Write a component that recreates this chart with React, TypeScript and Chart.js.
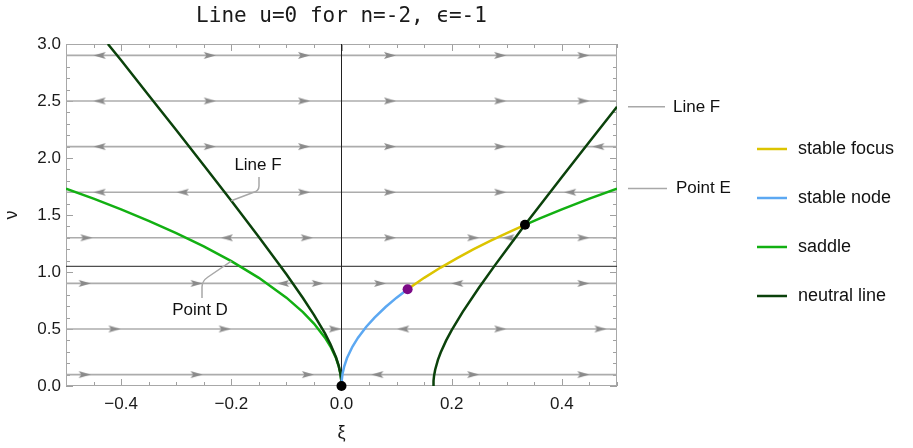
import React, { useEffect, useRef } from 'react';
import { Chart, registerables } from 'chart.js';

Chart.register(...registerables);

// ---------- data ----------
const xTicks = [-0.4, -0.2, 0, 0.2, 0.4];
const yTicks = [0, 0.5, 1, 1.5, 2, 2.5, 3];
const streamRows = [0.1, 0.5, 0.9, 1.3, 1.7, 2.1, 2.5, 2.9];

const arrowsRight: number[][] = [
  [-0.239, 2.9], [-0.068, 2.9], [0.088, 2.9], [0.288, 2.9], [0.439, 2.9],
  [-0.239, 2.5], [-0.068, 2.5], [0.088, 2.5], [0.288, 2.5], [0.439, 2.5],
  [-0.239, 2.1], [-0.068, 2.1], [0.088, 2.1], [0.288, 2.1],
  [-0.068, 1.7], [0.088, 1.7], [0.288, 1.7],
  [-0.463, 1.3], [-0.063, 1.3], [0.088, 1.3], [0.239, 1.3], [0.439, 1.3],
  [-0.466, 0.9], [-0.263, 0.9], [-0.043, 0.9], [0.07, 0.9], [0.439, 0.9],
  [-0.412, 0.5], [-0.212, 0.5], [-0.012, 0.5], [0.288, 0.5], [0.47, 0.5],
  [-0.466, 0.1], [-0.263, 0.1], [-0.061, 0.1], [0.239, 0.1], [0.439, 0.1],
];
const arrowsLeft: number[][] = [
  [-0.439, 2.9],
  [-0.439, 2.5],
  [-0.439, 2.1], [0.466, 2.1],
  [-0.439, 1.7], [-0.288, 1.7], [0.415, 1.7],
  [-0.208, 1.3], [0.303, 1.3],
  [-0.106, 0.9], [0.21, 0.9],
  [0.112, 0.5],
  [0.065, 0.1],
];

const axisH = [[-0.5, 1.05], [0.5, 1.05]];
const axisV = [[0, 0], [0, 3]];

const saddleLeft = [
  [-0.5, 1.732], [-0.45, 1.643], [-0.4, 1.549], [-0.35, 1.449], [-0.3, 1.342],
  [-0.25, 1.225], [-0.2, 1.095], [-0.15, 0.949], [-0.1, 0.775], [-0.07, 0.648],
  [-0.05, 0.548], [-0.03, 0.424], [-0.02, 0.346], [-0.01, 0.245], [-0.005, 0.173],
  [-0.002, 0.11], [-0.0005, 0.055], [0, 0],
];
const stableNode = [
  [0, 0], [0.0005, 0.055], [0.002, 0.11], [0.005, 0.173], [0.01, 0.245],
  [0.02, 0.346], [0.03, 0.424], [0.045, 0.52], [0.06, 0.6], [0.08, 0.693],
  [0.1, 0.775], [0.12, 0.849],
];
const stableFocus = [
  [0.12, 0.849], [0.15, 0.949], [0.18, 1.039], [0.21, 1.122], [0.24, 1.2],
  [0.27, 1.273], [0.3, 1.342], [0.333, 1.414],
];
const saddleRight = [
  [0.333, 1.414], [0.36, 1.47], [0.4, 1.549], [0.45, 1.643], [0.5, 1.732],
];
const neutralLeft = [
  [-0.424, 3], [-0.4, 2.857], [-0.35, 2.551], [-0.3, 2.245], [-0.25, 1.936],
  [-0.2, 1.625], [-0.15, 1.308], [-0.1, 0.98], [-0.07, 0.772], [-0.05, 0.624],
  [-0.03, 0.461], [-0.02, 0.367], [-0.01, 0.252], [-0.005, 0.176], [-0.002, 0.11],
  [-0.0005, 0.055], [0, 0],
];
const neutralRight = [
  [0.1667, 0], [0.167, 0.045], [0.168, 0.09], [0.17, 0.143], [0.175, 0.229],
  [0.18, 0.294], [0.19, 0.4], [0.2, 0.49], [0.22, 0.65], [0.25, 0.866],
  [0.28, 1.069], [0.3, 1.2], [0.333, 1.414], [0.36, 1.583], [0.4, 1.833],
  [0.45, 2.142], [0.5, 2.449],
];
const fixedPoints = [[0, 0], [0.333, 1.414]];
const transitionPoint = [[0.12, 0.849]];

const calloutLineF = [-0.2, 1.625];
const calloutPointD = [-0.2, 1.095];
const edgeLineF = [0.5, 2.449];
const edgePointE = [0.5, 1.732];

const legendLabels = ['stable focus', 'stable node', 'saddle', 'neutral line'];

const TITLE = 'Line u=0 for n=-2, \u03F5=-1';

// ---------- styles ----------
const C_FOCUS = '#dcc400';
const C_NODE = '#5ca8f2';
const C_SADDLE = '#12b012';
const C_NEUTRAL = '#0b420b';
const legendColors = [C_FOCUS, C_NODE, C_SADDLE, C_NEUTRAL];
const FONT = '"Liberation Sans", Arial, sans-serif';

function makeArrow(dir: number) {
  const c = document.createElement('canvas');
  c.width = 14;
  c.height = 9;
  const g = c.getContext('2d')!;
  g.fillStyle = '#8a8a8a';
  g.beginPath();
  if (dir > 0) {
    g.moveTo(1, 1); g.lineTo(13, 4.5); g.lineTo(1, 8); g.lineTo(3.5, 4.5);
  } else {
    g.moveTo(13, 1); g.lineTo(1, 4.5); g.lineTo(13, 8); g.lineTo(10.5, 4.5);
  }
  g.closePath();
  g.fill();
  return c;
}

const fmt = (v: number) => {
  if (Math.abs(v) < 1e-9) return '0.0';
  return (v < 0 ? '\u2212' : '') + Math.abs(v).toFixed(1);
};

const decor = {
  id: 'decor',
  beforeDatasetsDraw(chart: any) {
    const { ctx, chartArea: a, scales } = chart;
    const x = scales.x, y = scales.y;
    ctx.save();
    ctx.strokeStyle = '#a0a0a0';
    ctx.lineWidth = 1;
    for (let i = -10; i <= 10; i++) {
      const v = i * 0.05;
      const px = Math.round(x.getPixelForValue(v)) + 0.5;
      const len = i % 4 === 0 ? 7 : 4;
      ctx.beginPath();
      ctx.moveTo(px, a.bottom); ctx.lineTo(px, a.bottom - len);
      ctx.moveTo(px, a.top); ctx.lineTo(px, a.top + len);
      ctx.stroke();
    }
    for (let i = 0; i <= 30; i++) {
      const v = i * 0.1;
      const py = Math.round(y.getPixelForValue(v)) + 0.5;
      const len = i % 5 === 0 ? 7 : 4;
      ctx.beginPath();
      ctx.moveTo(a.left, py); ctx.lineTo(a.left + len, py);
      ctx.moveTo(a.right, py); ctx.lineTo(a.right - len, py);
      ctx.stroke();
    }
    ctx.strokeStyle = '#a8a8a8';
    ctx.strokeRect(a.left + 0.5, a.top + 0.5, a.right - a.left - 1, a.bottom - a.top - 1);
    ctx.restore();
  },
  afterDraw(chart: any) {
    const { ctx, chartArea: a, scales } = chart;
    const x = scales.x, y = scales.y;
    ctx.save();
    // title
    ctx.fillStyle = '#1a1a1a';
    ctx.font = '21px "DejaVu Sans Mono", monospace';
    ctx.textAlign = 'center';
    ctx.textBaseline = 'middle';
    ctx.fillText(TITLE, (a.left + a.right) / 2, 17);

    // axis titles
    ctx.font = `18px ${FONT}`;
    ctx.fillText('\u03BE', (a.left + a.right) / 2, 433);
    ctx.save();
    ctx.translate(12, (a.top + a.bottom) / 2);
    ctx.rotate(-Math.PI / 2);
    ctx.fillText('\u03BD', 0, 0);
    ctx.restore();

    // callouts
    ctx.strokeStyle = '#a8a8a8';
    ctx.lineWidth = 1.5;
    const fx = x.getPixelForValue(calloutLineF[0]);
    const fy = y.getPixelForValue(calloutLineF[1]);
    ctx.beginPath();
    ctx.moveTo(259, 177); ctx.lineTo(259, 186);
    ctx.quadraticCurveTo(259, 191, 253, 192.5);
    ctx.lineTo(fx, fy);
    ctx.stroke();
    const dx = x.getPixelForValue(calloutPointD[0]);
    const dy = y.getPixelForValue(calloutPointD[1]);
    ctx.beginPath();
    ctx.moveTo(202, 298); ctx.lineTo(202, 287);
    ctx.quadraticCurveTo(202, 281, 208, 277);
    ctx.lineTo(dx, dy);
    ctx.stroke();
    const ex = x.getPixelForValue(edgeLineF[0]);
    const ey1 = y.getPixelForValue(edgeLineF[1]);
    const ey2 = y.getPixelForValue(edgePointE[1]);
    ctx.beginPath();
    ctx.moveTo(ex + 11, ey1); ctx.lineTo(ex + 48, ey1);
    ctx.moveTo(ex + 11, ey2); ctx.lineTo(ex + 50, ey2);
    ctx.stroke();

    ctx.fillStyle = '#111';
    ctx.font = `17px ${FONT}`;
    ctx.textAlign = 'center';
    ctx.fillText('Line F', 258, 165);
    ctx.fillText('Point D', 200, 310);
    ctx.textAlign = 'left';
    ctx.fillText('Line F', ex + 56, ey1);
    ctx.fillText('Point E', ex + 59, ey2);

    // legend
    ctx.font = `18px ${FONT}`;
    const rows = [149, 198, 247, 296];
    legendLabels.forEach((lab, i) => {
      ctx.strokeStyle = legendColors[i];
      ctx.lineWidth = 2.5;
      ctx.beginPath();
      ctx.moveTo(757, rows[i]); ctx.lineTo(787, rows[i]);
      ctx.stroke();
      ctx.fillStyle = '#111';
      ctx.fillText(lab, 798, rows[i]);
    });
    ctx.restore();
  },
};

export default function App() {
  const ref = useRef<HTMLCanvasElement>(null);
  useEffect(() => {
    const canvas = ref.current!;
    const arrowR = makeArrow(1);
    const arrowL = makeArrow(-1);
    const pts = (arr: number[][]) => arr.map(([px, py]) => ({ x: px, y: py }));
    const line = (label: string, data: number[][], color: string, width: number) => ({
      label, data: pts(data), showLine: true, borderColor: color, borderWidth: width,
      pointRadius: 0, fill: false, tension: 0,
    });
    const bottomFirst: any[] = [
      ...streamRows.map((v) => line('stream', [[-0.5, v], [0.5, v]], '#acacac', 1.6)),
      { label: 'arrowsR', data: pts(arrowsRight), pointStyle: arrowR, pointRadius: 5, showLine: false },
      { label: 'arrowsL', data: pts(arrowsLeft), pointStyle: arrowL, pointRadius: 5, showLine: false },
      line('axisH', axisH, '#222', 1),
      line('axisV', axisV, '#222', 1),
      line('saddleLeft', saddleLeft, C_SADDLE, 2.5),
      line('neutralLeft', neutralLeft, C_NEUTRAL, 2.5),
      line('neutralRight', neutralRight, C_NEUTRAL, 2.5),
      line('stableNode', stableNode, C_NODE, 2.5),
      line('stableFocus', stableFocus, C_FOCUS, 2.5),
      line('saddleRight', saddleRight, C_SADDLE, 2.5),
      { label: 'fixed', data: pts(fixedPoints), pointRadius: 5, backgroundColor: '#000', borderWidth: 0, showLine: false, clip: false },
      { label: 'transition', data: pts(transitionPoint), pointRadius: 5, backgroundColor: '#7b0a86', borderWidth: 0, showLine: false, clip: false },
    ];
    const datasets = bottomFirst.map((d, i) => ({ ...d, order: bottomFirst.length - i }));

    const chart = new Chart(canvas, {
      type: 'scatter',
      data: { datasets },
      plugins: [decor],
      options: {
        animation: false,
        responsive: false,
        events: [],
        layout: { padding: { top: 44, left: 0, right: 296, bottom: 0 } },
        plugins: { legend: { display: false }, tooltip: { enabled: false }, title: { display: false } },
        scales: {
          x: {
            type: 'linear', min: -0.5, max: 0.5,
            afterBuildTicks: (s: any) => { s.ticks = xTicks.map((v) => ({ value: v })); },
            afterFit: (s: any) => { s.height = 62; },
            grid: { display: false, drawTicks: false },
            border: { display: false },
            ticks: { padding: 8, color: '#1a1a1a', font: { family: FONT, size: 17 }, callback: (v: any) => fmt(Number(v)) },
          },
          y: {
            type: 'linear', min: 0, max: 3,
            afterBuildTicks: (s: any) => { s.ticks = yTicks.map((v) => ({ value: v })); },
            afterFit: (s: any) => { s.width = 66; },
            grid: { display: false, drawTicks: false },
            border: { display: false },
            ticks: { padding: 5, color: '#1a1a1a', font: { family: FONT, size: 17 }, callback: (v: any) => fmt(Number(v)) },
          },
        },
      } as any,
    });
    return () => chart.destroy();
  }, []);
  return (
    <div style={{ position: 'fixed', left: 0, top: 0, width: 913, height: 448, background: '#fff' }}>
      <canvas ref={ref} width={913} height={448} style={{ display: 'block' }} />
    </div>
  );
}
